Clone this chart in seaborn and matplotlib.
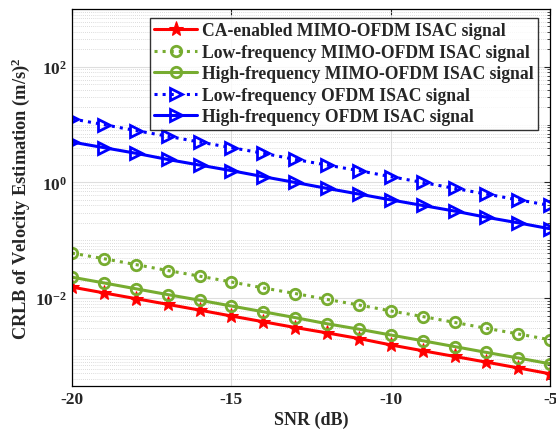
import numpy as np
import pandas as pd
import matplotlib
matplotlib.use("Agg")
import matplotlib.pyplot as plt
import seaborn as sns
from matplotlib.ticker import LogLocator, FixedLocator, NullFormatter

sns.set_theme(style="white")
plt.rcParams['font.family'] = ['Liberation Serif', 'DejaVu Serif']
plt.rcParams['font.weight'] = 'bold'
plt.rcParams['mathtext.fontset'] = 'custom'
plt.rcParams['mathtext.rm'] = 'Liberation Serif:bold'
plt.rcParams['mathtext.bf'] = 'Liberation Serif:bold'
plt.rcParams['mathtext.it'] = 'Liberation Serif:bold:italic'
plt.rcParams['mathtext.default'] = 'bf'

snr = [-20, -19, -18, -17, -16, -15, -14, -13, -12, -11, -10, -9, -8, -7, -6, -5]

ca_mimo = [0.0155, 0.0123, 0.0098, 0.0078, 0.0062, 0.0049, 0.0039, 0.0031,
           0.0025, 0.0020, 0.00155, 0.00123, 0.00098, 0.00078, 0.00062, 0.00049]
low_mimo = [0.060, 0.048, 0.038, 0.030, 0.024, 0.019, 0.015, 0.012,
            0.0095, 0.0076, 0.0060, 0.0048, 0.0038, 0.0030, 0.0024, 0.0019]
high_mimo = [0.023, 0.0183, 0.0145, 0.0115, 0.0092, 0.0073, 0.0058, 0.0046,
             0.0036, 0.0029, 0.0023, 0.00183, 0.00145, 0.00115, 0.00092, 0.00073]
low_ofdm = [12.6, 10.0, 7.9, 6.3, 5.0, 4.0, 3.2, 2.5,
            2.0, 1.6, 1.26, 1.0, 0.79, 0.63, 0.50, 0.40]
high_ofdm = [5.0, 4.0, 3.2, 2.5, 2.0, 1.6, 1.26, 1.0,
             0.79, 0.63, 0.50, 0.40, 0.32, 0.25, 0.20, 0.158]

labels = ["CA-enabled MIMO-OFDM ISAC signal",
          "Low-frequency MIMO-OFDM ISAC signal",
          "High-frequency MIMO-OFDM ISAC signal",
          "Low-frequency OFDM ISAC signal",
          "High-frequency OFDM ISAC signal"]

series = [ca_mimo, low_mimo, high_mimo, low_ofdm, high_ofdm]
green = "#77AC30"
styles = [
    dict(color="red", linestyle="-", marker="*", markersize=11, markerfacecolor="red", markeredgecolor="red"),
    dict(color=green, linestyle=":", marker="o", markersize=7.5, markerfacecolor="none", markeredgecolor=green, markeredgewidth=2),
    dict(color=green, linestyle="-", marker="o", markersize=7.5, markerfacecolor="none", markeredgecolor=green, markeredgewidth=2),
    dict(color="blue", linestyle=":", marker=">", markersize=9, markerfacecolor="none", markeredgecolor="blue", markeredgewidth=2),
    dict(color="blue", linestyle="-", marker=">", markersize=9, markerfacecolor="none", markeredgecolor="blue", markeredgewidth=2),
]

fig = plt.figure(figsize=(5.56, 4.35), dpi=100)
ax = fig.add_axes([0.1295, 0.110, 0.860, 0.867])

for vals, lab, st in zip(series, labels, styles):
    df = pd.DataFrame({"SNR": snr, "CRLB": vals})
    sns.lineplot(data=df, x="SNR", y="CRLB", ax=ax, label=lab, linewidth=2.2, **st)

ax.set_yscale("log")
ax.set_xlim(-20, -5)
ax.set_ylim(3.0e-4, 1e3)
ax.xaxis.set_major_locator(FixedLocator([-20, -15, -10, -5]))
ax.set_xticklabels(["-20", "-15", "-10", "-5"])
ax.yaxis.set_major_locator(FixedLocator([1e-2, 1e0, 1e2]))
ax.set_yticklabels([r"$\mathbf{10^{-2}}$", r"$\mathbf{10^{0}}$", r"$\mathbf{10^{2}}$"])
ax.yaxis.set_minor_locator(LogLocator(base=10, subs=np.arange(1, 10), numticks=50))
ax.yaxis.set_minor_formatter(NullFormatter())

ax.grid(True, which="major", color="#dedede", linewidth=0.8, linestyle="-")
ax.grid(True, which="minor", axis="y", color="#d0d0d0", linewidth=0.6, linestyle=(0, (1, 1.5)))

ax.tick_params(axis="both", which="both", direction="in", top=True, right=True)
ax.tick_params(axis="both", which="major", length=4, width=0.8, labelsize=12.5)
ax.tick_params(axis="y", which="minor", length=2.5, width=0.6)
for lbl in ax.get_xticklabels() + ax.get_yticklabels():
    lbl.set_fontweight("bold")
for sp in ax.spines.values():
    sp.set_color("black")
    sp.set_linewidth(0.9)

ax.set_xlabel("SNR (dB)", fontsize=13, fontweight="bold", labelpad=3)
ax.set_ylabel(r"CRLB of Velocity Estimation (m/s)$^2$", fontsize=13.2, fontweight="bold", labelpad=2)

leg = ax.legend(loc="upper right", bbox_to_anchor=(0.975, 0.976), fontsize=12.7,
                frameon=True, fancybox=False, edgecolor="black", handlelength=2.4,
                borderpad=0.25, labelspacing=0.25, handletextpad=0.3, borderaxespad=0.0)
leg.get_frame().set_linewidth(1.0)
for t in leg.get_texts():
    t.set_fontweight("bold")

fig.savefig("out.png", dpi=100)
